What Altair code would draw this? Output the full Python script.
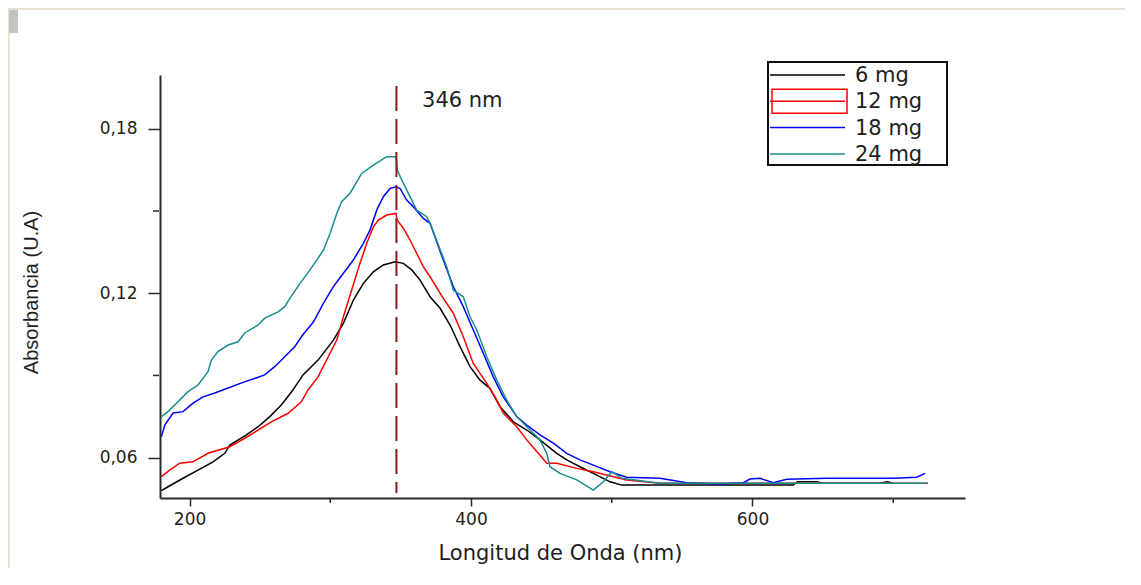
import altair as alt
import pandas as pd

# ---------------- data ----------------
series_names = ["6 mg", "12 mg", "18 mg", "24 mg"]
series_colors = ["#000000", "#ff0000", "#0000ff", "#1a8c8c"]

wl_6mg = [180, 184.7, 195.4, 206.0, 216.7, 225.0, 228.6, 240.4, 248.7, 257.0, 265.2, 273.5, 280.6,
          286.5, 291.3, 302.2, 309.3, 316.4, 323.5, 330.6, 337.7, 346.0, 351.9, 357.9, 363.8, 370.9,
          378.0, 385.1, 392.2, 399.3, 406.4, 413.5, 420.6, 430.1, 439.6, 449.0, 460.9, 468.0, 477.4,
          486.9, 498.8, 507.1, 560, 628.8, 632, 635.9, 645.9, 649.6, 690.6, 695.6, 699.9]
abs_6mg = [0.0480, 0.0494, 0.0525, 0.0555, 0.0585, 0.0616, 0.0646, 0.0683, 0.0713, 0.0750, 0.0792,
           0.0847, 0.0902, 0.0932, 0.0956, 0.1029, 0.1090, 0.1175, 0.1236, 0.1278, 0.1303, 0.1315,
           0.1309, 0.1285, 0.1248, 0.1187, 0.1145, 0.1084, 0.1005, 0.0932, 0.0883, 0.0853, 0.0786,
           0.0731, 0.0701, 0.0665, 0.0616, 0.0592, 0.0567, 0.0543, 0.0512, 0.0500, 0.0500, 0.0500,
           0.0512, 0.0512, 0.0512, 0.0507, 0.0507, 0.0512, 0.0507]

wl_12mg = [180, 185.9, 193.0, 202.5, 213.1, 228.6, 239.2, 248.7, 258.1, 270.0, 279.4, 284.2, 291.3,
           304.6, 309.3, 315.2, 321.1, 325.9, 330.6, 334.1, 340.1, 346.7, 347.4, 351.9, 356.7, 361.4,
           366.1, 370.9, 380.3, 387.4, 394.5, 401.6, 411.2, 418.3, 423.0, 432.5, 439.6, 447.8, 453.8,
           460.9, 475.1, 486.9, 510.6, 534.3, 724.7]
abs_12mg = [0.0531, 0.0555, 0.0580, 0.0585, 0.0616, 0.0640, 0.0671, 0.0701, 0.0731, 0.0762, 0.0804,
            0.0847, 0.0895, 0.1029, 0.1114, 0.1212, 0.1309, 0.1382, 0.1442, 0.1467, 0.1485, 0.1491,
            0.1467, 0.1437, 0.1394, 0.1345, 0.1297, 0.1260, 0.1181, 0.1127, 0.1041, 0.0944, 0.0871,
            0.0810, 0.0762, 0.0713, 0.0665, 0.0616, 0.0580, 0.0580, 0.0561, 0.0549, 0.0519, 0.0507,
            0.0507]

wl_18mg = [180, 182.4, 188.3, 195.4, 202.5, 209.6, 217.9, 227.4, 236.6, 247.2, 253.4, 260.5, 267.6,
           274.7, 280.9, 288.0, 295.1, 302.2, 309.3, 316.4, 323.5, 328.2, 333.0, 337.7, 342.5, 346.7,
           349.6, 354.3, 359.0, 366.1, 370.9, 380.3, 387.4, 394.5, 401.6, 408.7, 415.8, 422.9, 432.5,
           439.6, 449.0, 458.5, 468.0, 477.4, 486.9, 498.8, 510.6, 534.3, 553.3, 576.9, 593.5, 598.2,
           605.3, 614.8, 624.3, 652.7, 700.0, 716.7, 722.6]
abs_18mg = [0.0677, 0.0719, 0.0763, 0.0768, 0.0799, 0.0822, 0.0836, 0.0854, 0.0872, 0.0891, 0.0902,
            0.0932, 0.0968, 0.1005, 0.1051, 0.1095, 0.1163, 0.1224, 0.1273, 0.1321, 0.1382, 0.1430,
            0.1503, 0.1552, 0.1582, 0.1588, 0.1582, 0.1540, 0.1515, 0.1473, 0.1455, 0.1321, 0.1224,
            0.1151, 0.1066, 0.0981, 0.0895, 0.0822, 0.0750, 0.0719, 0.0683, 0.0653, 0.0616, 0.0592,
            0.0573, 0.0549, 0.0529, 0.0525, 0.0509, 0.0504, 0.0509, 0.0522, 0.0525, 0.0509, 0.0521,
            0.0525, 0.0525, 0.0529, 0.0543]

wl_24mg = [180, 184.7, 191.8, 198.9, 206.0, 213.1, 215.5, 220.2, 227.4, 234.5, 239.2, 248.7, 253.4,
           262.9, 267.6, 271.4, 278.5, 285.6, 295.1, 299.8, 304.6, 308.1, 314.0, 322.3, 330.6, 340.1,
           346.7, 347.6, 350.8, 355.5, 361.4, 368.5, 370.9, 382.7, 387.4, 394.5, 399.3, 404.1, 411.2,
           418.3, 425.4, 432.5, 441.9, 449.0, 453.8, 456.1, 463.2, 475.1, 486.9, 494.0, 500.0, 507.1,
           534.3, 723.8]
abs_24mg = [0.0750, 0.0768, 0.0804, 0.0841, 0.0865, 0.0914, 0.0956, 0.0987, 0.1011, 0.1023, 0.1055,
            0.1084, 0.1109, 0.1132, 0.1151, 0.1182, 0.1236, 0.1285, 0.1357, 0.1418, 0.1491, 0.1534,
            0.1564, 0.1637, 0.1667, 0.1698, 0.1698, 0.1649, 0.1613, 0.1564, 0.1503, 0.1479, 0.1455,
            0.1297, 0.1212, 0.1187, 0.1114, 0.1066, 0.0968, 0.0883, 0.0810, 0.0750, 0.0701, 0.0665,
            0.0616, 0.0567, 0.0543, 0.0519, 0.0482, 0.0512, 0.0549, 0.0525, 0.0507, 0.0507]

x_ticks = [200, 400, 600]
x_minor_ticks = [300, 500, 700]
y_ticks = [0.06, 0.12, 0.18]
y_minor_ticks = [0.09, 0.15]

peak_wl = 347
peak_label = "346 nm"

# ---------------- build tables ----------------
wls = [wl_6mg, wl_12mg, wl_18mg, wl_24mg]
absv = [abs_6mg, abs_12mg, abs_18mg, abs_24mg]
rows = []
for name, w, a in zip(series_names, wls, absv):
    for wv, av in zip(w, a):
        rows.append({"series": name, "wl": wv, "A": av})
df = pd.DataFrame(rows)

W, H = 805, 423
xscale = alt.Scale(domain=[179.0, 751.0], nice=False, zero=False)
yscale = alt.Scale(domain=[0.0453, 0.1996], nice=False, zero=False)

AX = "#2a2a2a"
TXT = "#1e1e1e"

xaxis = alt.Axis(values=x_ticks, title="Longitud de Onda (nm)", grid=False, tickSize=8,
                 tickWidth=1.5, tickColor=AX, domainColor=AX, domainWidth=2,
                 labelFont="DejaVu Sans", labelFontSize=17, labelColor=TXT, labelPadding=5,
                 labelFlush=False, format="d",
                 titleFont="DejaVu Sans", titleFontSize=21, titleFontWeight="normal",
                 titleColor=TXT, titleX=400, titleY=55, titleAlign="center",
                 titleBaseline="middle")
yaxis = alt.Axis(values=y_ticks, title="Absorbancia (U.A)", grid=False, tickSize=12,
                 tickWidth=1.5, tickColor=AX, domainColor=AX, domainWidth=2,
                 labelFont="DejaVu Sans", labelFontSize=17, labelColor=TXT, labelPadding=11,
                 labelExpr="replace(format(datum.value, '.2f'), '.', ',')",
                 titleFont="Liberation Sans", titleFontSize=20, titleFontWeight="normal",
                 titleColor=TXT, titleX=-129, titleY=217, titleAngle=270, titleAlign="center",
                 titleBaseline="middle")


def X():
    return alt.X("wl:Q", scale=xscale, axis=xaxis)


def Y():
    return alt.Y("A:Q", scale=yscale, axis=yaxis)


layers = []
for name, col in zip(series_names, series_colors):
    layers.append(
        alt.Chart(df).transform_filter(alt.datum.series == name)
        .mark_line(color=col, strokeWidth=1.5, clip=True)
        .encode(x=X(), y=Y(), order="wl:Q")
    )

# minor ticks
layers.append(
    alt.Chart(pd.DataFrame({"wl": x_minor_ticks})).mark_rule(color=AX, strokeWidth=1.5)
    .encode(x=X(), y=alt.value(H + 1), y2=alt.value(H + 5))
)
layers.append(
    alt.Chart(pd.DataFrame({"A": y_minor_ticks})).mark_rule(color=AX, strokeWidth=1.5)
    .encode(y=Y(), x=alt.value(-7), x2=alt.value(-1))
)

# dashed peak line + label
layers.append(
    alt.Chart(pd.DataFrame({"wl": [peak_wl], "A": [0.1956], "A2": [0.0471]}))
    .mark_rule(color="#8b1a1a", strokeWidth=2, strokeDash=[25, 8])
    .encode(x=X(), y=Y(), y2=alt.Y2("A2:Q"))
)
layers.append(
    alt.Chart(pd.DataFrame({"wl": [365.2], "A": [0.1901], "label": [peak_label]}))
    .mark_text(align="left", baseline="middle", font="DejaVu Sans", fontSize=21, color=TXT)
    .encode(x=X(), y=Y(), text="label:N")
)

# legend (drawn by hand to reproduce the boxed style)
layers.append(
    alt.Chart(pd.DataFrame({"k": [0]})).mark_rect(fillOpacity=0, stroke="#111111", strokeWidth=2)
    .encode(x=alt.value(608), x2=alt.value(787), y=alt.value(-13), y2=alt.value(90))
)
for i, (name, col) in enumerate(zip(series_names, series_colors)):
    ry = i * 26.3
    layers.append(
        alt.Chart(pd.DataFrame({"k": [0]})).mark_rule(color=col, strokeWidth=1.5)
        .encode(x=alt.value(610), x2=alt.value(685), y=alt.value(ry))
    )
    layers.append(
        alt.Chart(pd.DataFrame({"label": [name]}))
        .mark_text(align="left", baseline="middle", font="DejaVu Sans", fontSize=21, color=TXT)
        .encode(x=alt.value(695), y=alt.value(ry + 1), text="label:N")
    )
    if i == 1:
        layers.append(
            alt.Chart(pd.DataFrame({"k": [0]})).mark_rect(fillOpacity=0, stroke=col, strokeWidth=1.5)
            .encode(x=alt.value(612), x2=alt.value(687), y=alt.value(ry - 12), y2=alt.value(ry + 12))
        )

# screenshot frame decorations
layers.append(
    alt.Chart(pd.DataFrame({"k": [0]})).mark_rule(color="#e6e2cf", strokeWidth=2)
    .encode(x=alt.value(-152), x2=alt.value(W + 160), y=alt.value(-66))
)
layers.append(
    alt.Chart(pd.DataFrame({"k": [0]})).mark_rule(color="#e6e2cf", strokeWidth=2)
    .encode(x=alt.value(-151), y=alt.value(-67), y2=alt.value(H + 70))
)
layers.append(
    alt.Chart(pd.DataFrame({"k": [0]})).mark_rect(color="#c3c3c3")
    .encode(x=alt.value(-151), x2=alt.value(-142), y=alt.value(-65), y2=alt.value(-42))
)

chart = alt.layer(*layers).properties(
    width=W, height=H,
    autosize=alt.AutoSizeParams(type="none"),
    padding={"left": 152, "top": 67, "right": 160, "bottom": 70},
    background="white",
).configure_view(stroke=None)

chart.save("out.html", embed_options={"renderer": "svg", "actions": False})
